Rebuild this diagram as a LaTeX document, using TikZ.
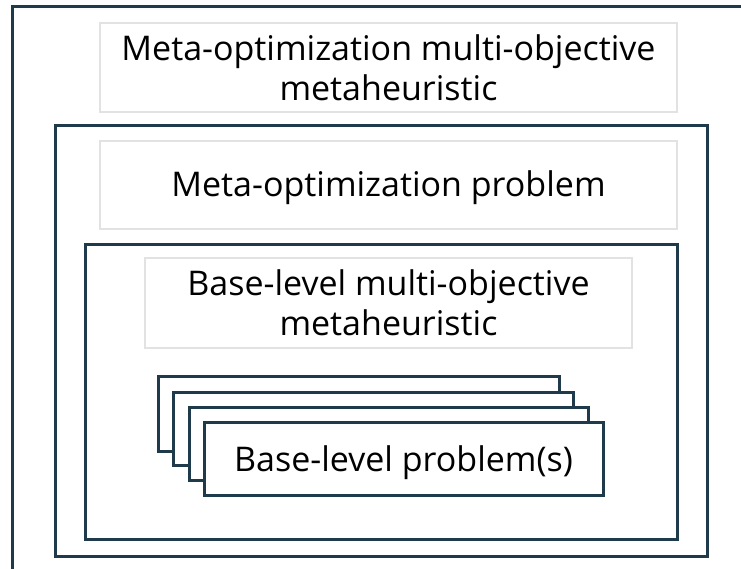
\documentclass[tikz,border=0pt]{standalone}
\usepackage{fontspec}
\setmainfont{Open Sans}
\definecolor{frame}{HTML}{1F3A4A}
\definecolor{lightg}{HTML}{E2E2E2}
\begin{document}
\begin{tikzpicture}[x=1pt,y=-1pt,
  darkbox/.style={draw=frame,line width=3pt},
  lightbox/.style={draw=lightg,line width=1.3pt},
  txt/.style={font=\fontsize{34}{40}\selectfont,align=center,text=black}]
\useasboundingbox (0,0) rectangle (741,569);
\begin{scope}
\clip (0,0) rectangle (741,569);
\draw[darkbox] (12,7) rectangle (780,600);
\end{scope}
\node[lightbox,minimum width=577pt,minimum height=89pt] (b1) at (388.5,67.5) {};
\node[txt] (t1) at (b1.center) {Meta-optimization multi-objective\\metaheuristic};
\node[darkbox,minimum width=652pt,minimum height=430pt] (m) at (381,341) {};
\node[lightbox,minimum width=577pt,minimum height=88pt] (b2) at (388.5,185) {};
\node[txt] (t2) at ([yshift=-3pt]b2.center) {Meta-optimization problem};
\node[darkbox,minimum width=592pt,minimum height=294pt] (in) at (381,392) {};
\node[lightbox,minimum width=487pt,minimum height=90pt] (b3) at (388.5,303) {};
\node[txt] (t3) at (b3.center) {Base-level multi-objective\\metaheuristic};
\node[darkbox,fill=white,minimum width=401pt,minimum height=75pt] (s1) at (358.5,413.5) {};
\node[darkbox,fill=white,minimum width=400pt,minimum height=73pt] (s2) at (373,428.5) {};
\node[darkbox,fill=white,minimum width=399pt,minimum height=73pt] (s3) at (388.5,443.5) {};
\node[darkbox,fill=white,minimum width=399pt,minimum height=73pt] (s4) at (403.5,458.5) {};
\node[txt] (t4) at ([yshift=-4pt]s4.center) {Base-level problem(s)};
\end{tikzpicture}
\end{document}
